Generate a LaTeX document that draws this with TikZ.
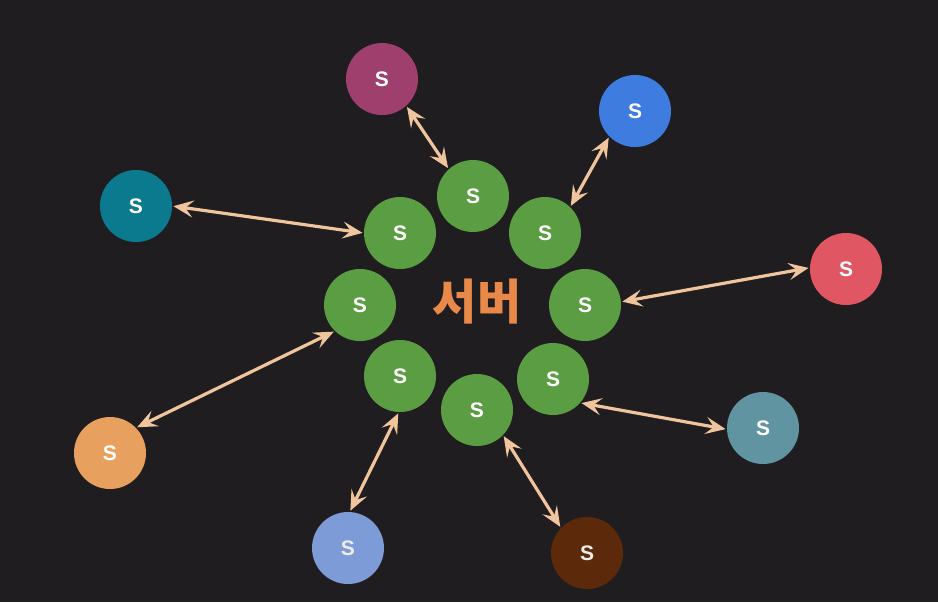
\documentclass[tikz,border=0pt]{standalone}
\usepackage{fontspec}
\setsansfont{Liberation Sans}
\newfontfamily\krfont{Noto Sans CJK KR}
\usetikzlibrary{arrows.meta,positioning}

\definecolor{bg}{HTML}{1F1D20}
\definecolor{srvgreen}{HTML}{5A9D42}
\definecolor{cmag}{HTML}{9E3F6E}
\definecolor{cblue}{HTML}{3F7CE0}
\definecolor{cteal}{HTML}{0B7A8F}
\definecolor{cred}{HTML}{E05763}
\definecolor{corange}{HTML}{E8A05E}
\definecolor{cgteal}{HTML}{5F94A0}
\definecolor{clav}{HTML}{7D9BD6}
\definecolor{cbrown}{HTML}{5C2A0B}
\definecolor{linkc}{HTML}{F0C49C}
\definecolor{titlec}{HTML}{E8894A}

\begin{document}
\begin{tikzpicture}[x=0.5pt,y=-0.5pt,
  srv/.style={circle,fill=#1,minimum size=36pt,inner sep=0pt,
    text=white,font=\sffamily\bfseries\fontsize{10.5}{12}\selectfont},
  link/.style={linkc,line width=1.6pt,
    {Stealth[length=10pt,width=8.5pt,inset=4pt]}-{Stealth[length=10pt,width=8.5pt,inset=4pt]},
    shorten >=0.5pt,shorten <=0.5pt}]
  \fill[bg] (0,0) rectangle (938,602);
  \useasboundingbox (0,0) rectangle (938,602);

  % ring of servers
  \foreach \n/\x/\y in {g1/473/196,g2/545/233,g3/585/305,g4/553/379,
                        g5/477/410,g6/400/376,g7/360/305,g8/400/233}
    \node[srv=srvgreen] (\n) at (\x,\y) {S};

  \node[text=titlec,font=\krfont\bfseries\fontsize{24}{28}\selectfont] (title) at (477,302) {서버};

  % outer servers
  \node[srv=cmag]   (mag)   at (382,79)  {S};
  \node[srv=cblue]  (blue)  at (635,111) {S};
  \node[srv=cteal]  (teal)  at (136,206) {S};
  \node[srv=cred]   (red)   at (846,269) {S};
  \node[srv=corange](orange) at (110,453) {S};
  \node[srv=cgteal] (gteal) at (763,428) {S};
  \node[srv=clav,text=white!85!gray] (lav) at (348,548) {S};
  \node[srv=cbrown,text=white!85!gray] (brown) at (587,553) {S};

  % links, outer anchor / ring anchor
  \foreach \a/\p/\b/\q in {mag/-48/g1/132,blue/225/g2/46,teal/0/g8/180,
      red/178/g3/5,orange/44/g7/-134,gteal/182/g4/-41,lav/87/g6/-92,brown/136/g5/-44}
    \draw[link] (\a.\p) -- (\b.\q);
\end{tikzpicture}
\end{document}
